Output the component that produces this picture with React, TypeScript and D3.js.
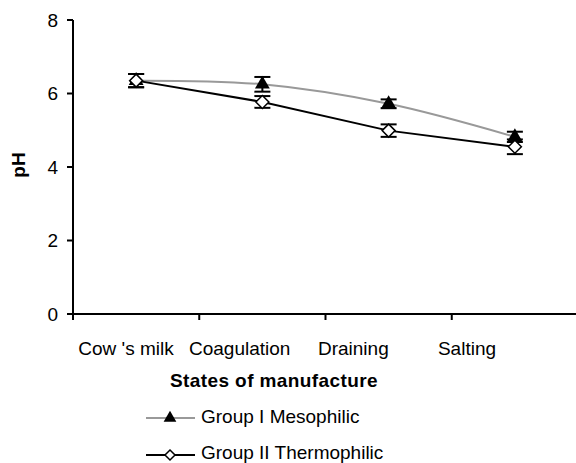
import React from "react";
import * as d3 from "d3";

const categories = ["Cow 's milk", "Coagulation", "Draining", "Salting"];
const mesophilic = [6.35, 6.25, 5.72, 4.82];
const mesophilicErr = [0.18, 0.2, 0.12, 0.14];
const thermophilic = [6.35, 5.77, 4.99, 4.55];
const thermophilicErr = [0.18, 0.16, 0.17, 0.2];
const yTicks = [0, 2, 4, 6, 8];
const seriesNames = ["Group I Mesophilic", "Group II Thermophilic"];

const W = 576;
const H = 463;
const left = 73;
const right = 578;
const top = 20;
const bottom = 314;
const font = "Arial, 'Liberation Sans', sans-serif";
const fs = 19;

export default function App() {
  const x = d3.scaleBand<string>().domain(categories).range([left, right]);
  const xLabel = d3.scalePoint<string>().domain(categories).range([126, 467]);
  const y = d3.scaleLinear().domain([0, 8]).range([bottom, top]);
  const cx = (c: string) => (x(c) as number) + x.bandwidth() / 2;

  const lineSmooth = d3
    .line<number>()
    .x((_, i) => cx(categories[i]))
    .y((d) => y(d))
    .curve(d3.curveCatmullRom.alpha(0.5));
  const lineStraight = d3
    .line<number>()
    .x((_, i) => cx(categories[i]))
    .y((d) => y(d));

  const tri = d3.symbol(d3.symbolTriangle, 95)() as string;
  const dia = (s: number) => `M0,${-s}L${s},0L0,${s}L${-s},0Z`;

  const errBars = (vals: number[], errs: number[], key: string) =>
    vals.map((v, i) => {
      const px = cx(categories[i]);
      const y1 = y(v + errs[i]);
      const y2 = y(v - errs[i]);
      return (
        <g key={key + i} stroke="#000" strokeWidth={2}>
          <line x1={px} x2={px} y1={y1} y2={y2} />
          <line x1={px - 8} x2={px + 8} y1={y1} y2={y1} />
          <line x1={px - 8} x2={px + 8} y1={y2} y2={y2} />
        </g>
      );
    });

  return (
    <svg
      width={W}
      height={H}
      style={{ position: "absolute", left: 0, top: 0, background: "#fff" }}
      fontFamily={font}
    >
      <path d={lineSmooth(mesophilic) as string} fill="none" stroke="#999" strokeWidth={2} />
      <path d={lineStraight(thermophilic) as string} fill="none" stroke="#000" strokeWidth={2} />
      {errBars(mesophilic, mesophilicErr, "m")}
      {errBars(thermophilic, thermophilicErr, "t")}
      {mesophilic.map((v, i) => (
        <path key={"mt" + i} d={tri} transform={`translate(${cx(categories[i])},${y(v)})`} fill="#000" />
      ))}
      {thermophilic.map((v, i) => (
        <path
          key={"td" + i}
          d={dia(6.5)}
          transform={`translate(${cx(categories[i])},${y(v)})`}
          fill="#fff"
          stroke="#000"
          strokeWidth={1.5}
        />
      ))}

      <line x1={left} x2={left} y1={top} y2={bottom} stroke="#000" strokeWidth={2} />
      {yTicks.map((t) => (
        <g key={"yt" + t}>
          <line x1={left - 6} x2={left} y1={y(t)} y2={y(t)} stroke="#000" strokeWidth={2} />
          <text x={left - 15} y={y(t)} dy="0.36em" textAnchor="end" fontSize={fs}>
            {t}
          </text>
        </g>
      ))}
      <line x1={left - 6} x2={W} y1={bottom} y2={bottom} stroke="#000" strokeWidth={2} />
      {categories.map((c) => (
        <line
          key={"xt" + c}
          x1={x(c) as number}
          x2={x(c) as number}
          y1={bottom}
          y2={bottom + 6}
          stroke="#000"
          strokeWidth={2}
        />
      ))}
      {categories.map((c) => (
        <text key={"xl" + c} x={xLabel(c) as number} y={355} textAnchor="middle" fontSize={fs}>
          {c}
        </text>
      ))}
      <text x={274} y={387} textAnchor="middle" fontSize={fs} fontWeight="bold" letterSpacing={0.4}>
        States of manufacture
      </text>
      <text transform={`translate(25,165) rotate(-90)`} textAnchor="middle" fontSize={fs} fontWeight="bold">
        pH
      </text>

      <g>
        <line x1={146} x2={195} y1={418} y2={418} stroke="#999" strokeWidth={2} />
        <path d={d3.symbol(d3.symbolTriangle, 70)() as string} transform="translate(170,418)" fill="#000" />
        <text x={201} y={423} fontSize={fs}>
          {seriesNames[0]}
        </text>
        <line x1={146} x2={195} y1={455} y2={455} stroke="#000" strokeWidth={2} />
        <path d={dia(5)} transform="translate(170,455)" fill="#fff" stroke="#000" strokeWidth={1.5} />
        <text x={201} y={459} fontSize={fs}>
          {seriesNames[1]}
        </text>
      </g>
    </svg>
  );
}
